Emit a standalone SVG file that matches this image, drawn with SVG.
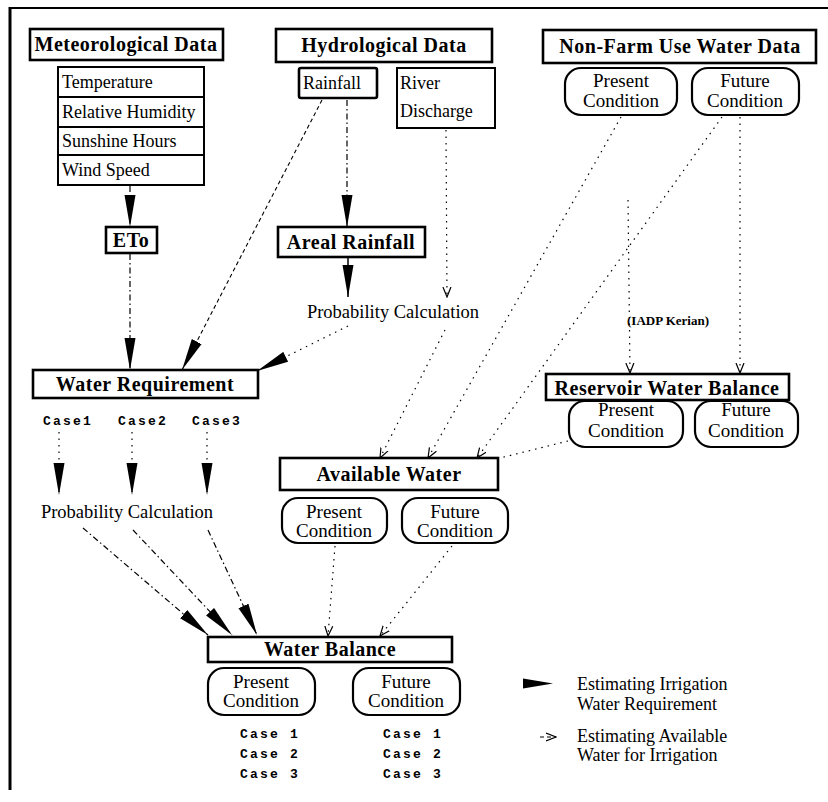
<svg xmlns="http://www.w3.org/2000/svg" width="828" height="802" viewBox="0 0 828 802">
<style>
.bg{fill:#fff}
.frame{stroke:#000;fill:none}
.hbox{fill:#fff;stroke:#000;stroke-width:2.6}
.box{fill:#fff;stroke:#000;stroke-width:2}
.pill{fill:#fff;stroke:#000;stroke-width:2.2}
.h{font-family:"Liberation Serif","Times New Roman",serif;font-weight:bold;font-size:20px;letter-spacing:0.5px;fill:#000;text-anchor:middle}
.t{font-family:"Liberation Serif","Times New Roman",serif;font-size:18px;fill:#000}
.c{font-family:"Liberation Serif","Times New Roman",serif;font-size:19px;fill:#000;text-anchor:middle}
.p{font-family:"Liberation Serif","Times New Roman",serif;font-size:18.5px;fill:#000;text-anchor:middle}
.m{font-family:"Liberation Mono","Courier New",monospace;font-weight:bold;font-size:13px;letter-spacing:2.2px;fill:#000}
.s{font-family:"Liberation Serif","Times New Roman",serif;font-weight:bold;font-size:13px;fill:#000;text-anchor:middle}
.dd{fill:none;stroke:#000;stroke-width:1.2;stroke-dasharray:6 3 1.5 3}
.dt{fill:none;stroke:#000;stroke-width:1.2;stroke-dasharray:1.5 5}
.ds{fill:none;stroke:#000;stroke-width:1.1;stroke-dasharray:4 3}
.sl{fill:none;stroke:#000;stroke-width:1.5}
</style>
<defs>
<marker id="wedge" markerUnits="userSpaceOnUse" markerWidth="32" markerHeight="12" viewBox="0 -6 32 12" refX="32" refY="0" orient="auto">
<path d="M0,-5.5 L32,0 L0,5.5 z" fill="#000"/>
</marker>
<marker id="vee" markerUnits="userSpaceOnUse" markerWidth="11" markerHeight="10" viewBox="0 -5 11 10" refX="10" refY="0" orient="auto">
<path d="M0,-4 L10,0 L0,4" fill="none" stroke="#000" stroke-width="1.2"/>
</marker>
</defs>
<rect class="bg" x="0" y="0" width="828" height="802"/>
<g id="frame">
<line class="frame" x1="10" y1="8" x2="828" y2="8" stroke-width="2"/>
<line class="frame" x1="10" y1="7" x2="10" y2="790" stroke-width="3"/>
</g>

<g id="connectors">
<line class="dd" x1="130" y1="186" x2="130" y2="227" marker-end="url(#wedge)"/>
<line class="dd" x1="130" y1="254" x2="130" y2="370" marker-end="url(#wedge)"/>
<line class="ds" x1="322" y1="100" x2="182" y2="370" marker-end="url(#wedge)"/>
<line class="dd" x1="347" y1="100" x2="347" y2="227" marker-end="url(#wedge)"/>
<line class="sl" x1="348" y1="258" x2="348" y2="297" marker-end="url(#wedge)"/>
<line class="dt" x1="348" y1="326" x2="257" y2="371" marker-end="url(#wedge)"/>
<line class="dt" x1="446" y1="130" x2="447" y2="297" marker-end="url(#vee)"/>
<line class="dt" x1="445" y1="330" x2="380" y2="458" marker-end="url(#vee)"/>
<line class="dt" x1="621" y1="117" x2="428" y2="458" marker-end="url(#vee)"/>
<line class="dt" x1="722" y1="117" x2="477" y2="458" marker-end="url(#vee)"/>
<line class="dt" x1="740" y1="117" x2="740" y2="373" marker-end="url(#vee)"/>
<line class="dt" x1="628" y1="200" x2="630" y2="373" marker-end="url(#vee)"/>
<line class="dt" x1="568" y1="441" x2="500" y2="458"/>
<line class="dt" x1="59" y1="432" x2="59" y2="495" marker-end="url(#wedge)"/>
<line class="dt" x1="132" y1="432" x2="132" y2="495" marker-end="url(#wedge)"/>
<line class="dt" x1="207" y1="432" x2="207" y2="495" marker-end="url(#wedge)"/>
<line class="dd" x1="83" y1="528" x2="208" y2="635" marker-end="url(#wedge)"/>
<line class="dd" x1="133" y1="530" x2="232" y2="635" marker-end="url(#wedge)"/>
<line class="dd" x1="208" y1="530" x2="257" y2="635" marker-end="url(#wedge)"/>
<line class="dt" x1="452" y1="546" x2="380" y2="636" marker-end="url(#vee)"/>
<line class="dt" x1="335" y1="546" x2="328" y2="636" marker-end="url(#vee)"/>
</g>

<g id="met-data">
<rect class="hbox" x="30" y="29" width="193" height="31"/>
<text class="h" x="126" y="51">Meteorological Data</text>
</g>
<g id="met-params">
<rect class="box" x="58" y="67" width="146" height="118"/>
<line class="frame" x1="58" y1="97" x2="204" y2="97" stroke-width="2"/>
<line class="frame" x1="58" y1="127" x2="204" y2="127" stroke-width="2"/>
<line class="frame" x1="58" y1="155" x2="204" y2="155" stroke-width="2"/>
<text class="t" x="62" y="88">Temperature</text>
<text class="t" x="62" y="118">Relative Humidity</text>
<text class="t" x="62" y="147">Sunshine Hours</text>
<text class="t" x="62" y="176">Wind Speed</text>
</g>
<g id="hydro-data">
<rect class="hbox" x="276" y="29" width="216" height="33"/>
<text class="h" x="384" y="52">Hydrological Data</text>
</g>
<g id="rainfall">
<rect class="hbox" x="299" y="68" width="78" height="30" rx="2"/>
<text class="t" x="303" y="89">Rainfall</text>
</g>
<g id="river-discharge">
<rect class="box" x="397" y="68" width="98" height="60"/>
<text class="t" x="400" y="89">River</text>
<text class="t" x="400" y="117">Discharge</text>
</g>
<g id="nonfarm-data">
<rect class="hbox" x="543" y="30" width="273" height="33"/>
<text class="h" x="680" y="53">Non-Farm Use Water Data</text>
</g>
<g id="nonfarm-present">
<rect class="pill" x="565" y="68" width="112" height="47" rx="16"/>
<text class="c" x="621" y="87">Present</text>
<text class="c" x="621" y="107">Condition</text>
</g>
<g id="nonfarm-future">
<rect class="pill" x="692" y="68" width="107" height="47" rx="16"/>
<text class="c" x="745" y="87">Future</text>
<text class="c" x="745" y="107">Condition</text>
</g>
<g id="eto">
<rect class="hbox" x="106" y="227" width="51" height="26"/>
<text class="h" x="131" y="247">ETo</text>
</g>
<g id="areal-rainfall">
<rect class="hbox" x="278" y="227" width="147" height="30"/>
<text class="h" x="351" y="249">Areal Rainfall</text>
</g>
<g id="prob-calc-1">
<text class="p" x="393" y="318">Probability Calculation</text>
</g>
<g id="iadp">
<text class="s" x="668" y="325">(IADP Kerian)</text>
</g>
<g id="water-requirement">
<rect class="hbox" x="33" y="370" width="225" height="28"/>
<text class="h" x="145" y="391">Water Requirement</text>
</g>
<g id="cases-wr">
<text class="m" x="43" y="425">Case1</text>
<text class="m" x="118" y="425">Case2</text>
<text class="m" x="192" y="425">Case3</text>
</g>
<g id="reservoir">
<rect class="hbox" x="546" y="374" width="243" height="26"/>
<text class="h" x="667" y="395">Reservoir Water Balance</text>
</g>
<g id="reservoir-present">
<rect class="pill" x="569" y="401" width="114" height="46" rx="16"/>
<text class="c" x="626" y="416">Present</text>
<text class="c" x="626" y="437">Condition</text>
</g>
<g id="reservoir-future">
<rect class="pill" x="695" y="401" width="103" height="46" rx="16"/>
<text class="c" x="746" y="416">Future</text>
<text class="c" x="746" y="437">Condition</text>
</g>
<g id="available-water">
<rect class="hbox" x="280" y="458" width="218" height="32"/>
<text class="h" x="389" y="481">Available Water</text>
</g>
<g id="aw-present">
<rect class="pill" x="282" y="498" width="105" height="45" rx="16"/>
<text class="c" x="334" y="518">Present</text>
<text class="c" x="334" y="537">Condition</text>
</g>
<g id="aw-future">
<rect class="pill" x="402" y="498" width="106" height="45" rx="16"/>
<text class="c" x="455" y="518">Future</text>
<text class="c" x="455" y="537">Condition</text>
</g>
<g id="prob-calc-2">
<text class="p" x="127" y="518">Probability Calculation</text>
</g>
<g id="water-balance">
<rect class="hbox" x="208" y="637" width="244" height="25"/>
<text class="h" x="330" y="656">Water Balance</text>
</g>
<g id="wb-present">
<rect class="pill" x="208" y="668" width="107" height="47" rx="16"/>
<text class="c" x="261" y="688">Present</text>
<text class="c" x="261" y="707">Condition</text>
</g>
<g id="wb-future">
<rect class="pill" x="353" y="668" width="107" height="47" rx="16"/>
<text class="c" x="406" y="688">Future</text>
<text class="c" x="406" y="707">Condition</text>
</g>
<g id="cases-wb">
<text class="m" x="240" y="738">Case 1</text>
<text class="m" x="240" y="758">Case 2</text>
<text class="m" x="240" y="778">Case 3</text>
<text class="m" x="383" y="738">Case 1</text>
<text class="m" x="383" y="758">Case 2</text>
<text class="m" x="383" y="778">Case 3</text>
</g>
<g id="legend">
<path d="M523,678.5 L553,683.5 L523,688.5 z" fill="#000"/>
<line class="ds" x1="540" y1="737" x2="556" y2="737" marker-end="url(#vee)"/>
<text class="t" x="577" y="690">Estimating Irrigation</text>
<text class="t" x="577" y="710">Water Requirement</text>
<text class="t" x="577" y="742">Estimating Available</text>
<text class="t" x="577" y="761">Water for Irrigation</text>
</g>
</svg>
